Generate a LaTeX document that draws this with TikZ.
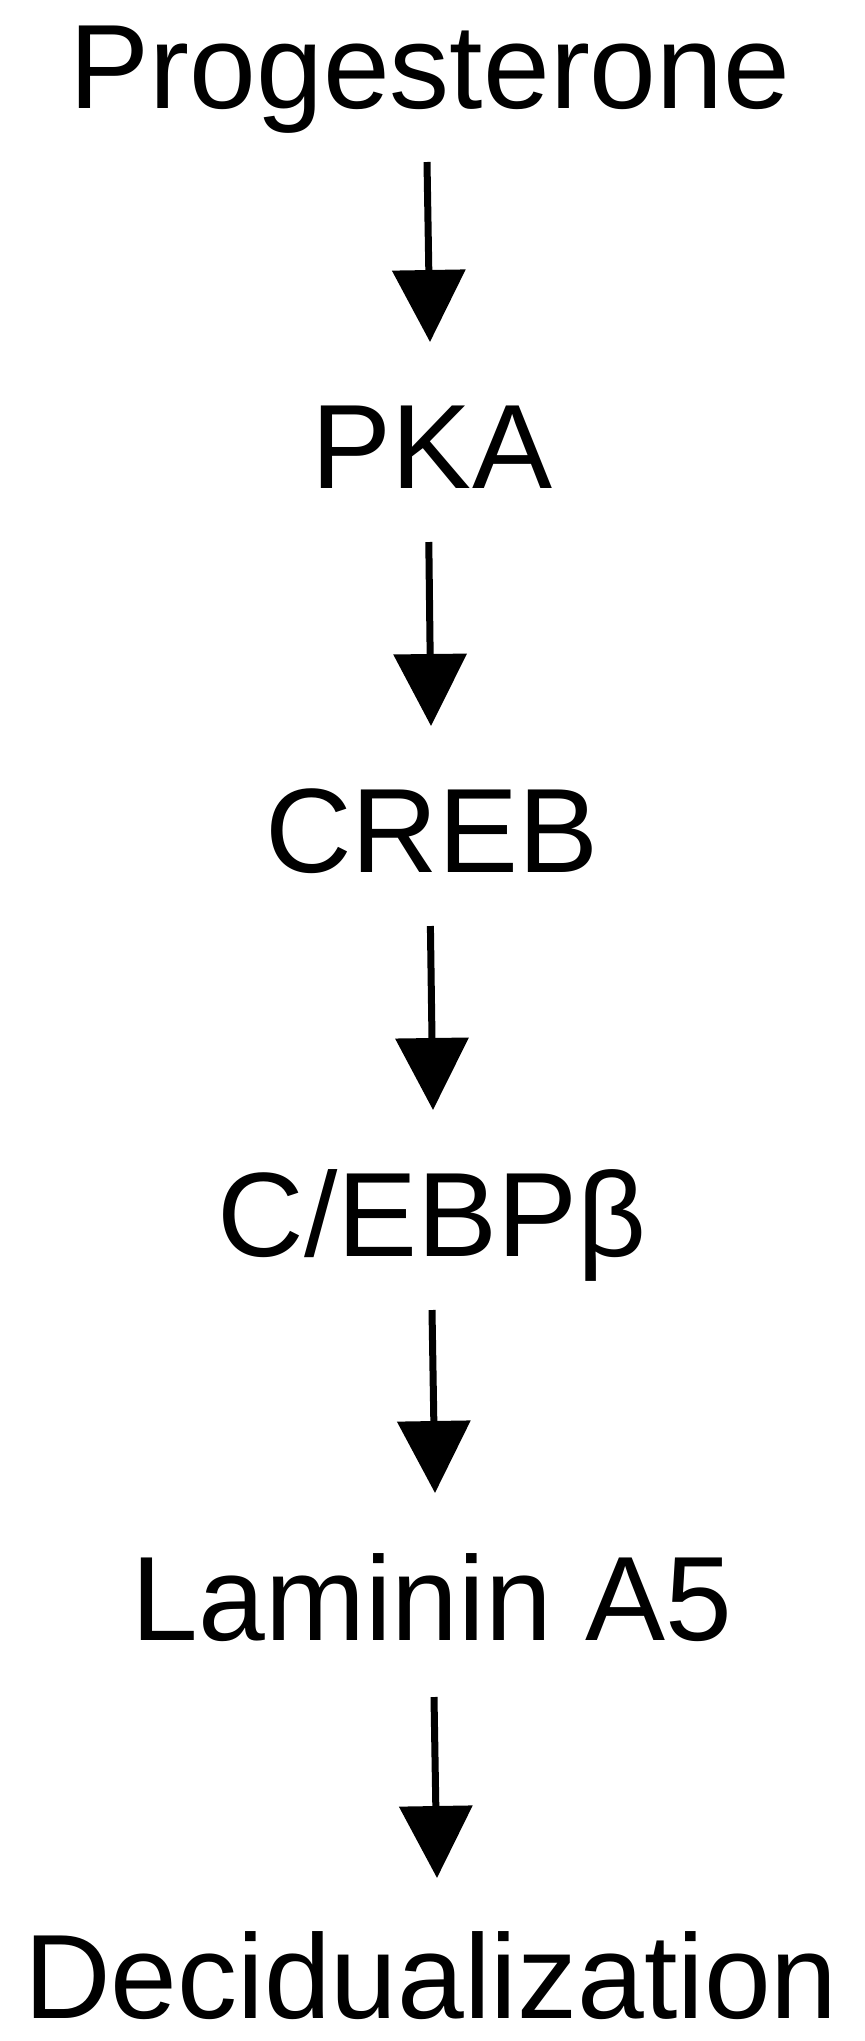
\documentclass[tikz,border=0pt]{standalone}
\usepackage{fontspec}
\setmainfont{Liberation Sans}
\usetikzlibrary{arrows.meta,calc}
\tikzset{
  lbl/.style={anchor=base, inner sep=0pt, font=\fontsize{60}{72}\selectfont},
  arr/.style={line width=3.5pt, -{Triangle[length=36pt, width=36pt]}}
}
\begin{document}
\begin{tikzpicture}
\useasboundingbox (0pt,0pt) rectangle (432.5pt,-1020.5pt);
\node[lbl] (pro) at (215pt,-54pt) {Progesterone};
\node[lbl] (pka) at (216pt,-244pt) {PKA};
\node[lbl] (creb) at (216pt,-436pt) {CREB};
\node[lbl] (cebp) at (216pt,-628pt) {C/EBPβ};
\node[lbl] (lam) at (216pt,-820pt) {Laminin A5};
\node[lbl] (dec) at (215.5pt,-1009pt) {Decidualization};
\draw[arr] ($(pro.base)+(-1.5pt,-27pt)$) -- ($(pka.base)+(-1pt,73pt)$);
\draw[arr] ($(pka.base)+(-1.6pt,-27pt)$) -- ($(creb.base)+(-0.5pt,73pt)$);
\draw[arr] ($(creb.base)+(-0.8pt,-27pt)$) -- ($(cebp.base)+(0.5pt,73pt)$);
\draw[arr] ($(cebp.base)+(0pt,-27pt)$) -- ($(lam.base)+(1.5pt,73.5pt)$);
\draw[arr] ($(lam.base)+(1pt,-28.5pt)$) -- ($(dec.base)+(3pt,70pt)$);
\end{tikzpicture}
\end{document}
